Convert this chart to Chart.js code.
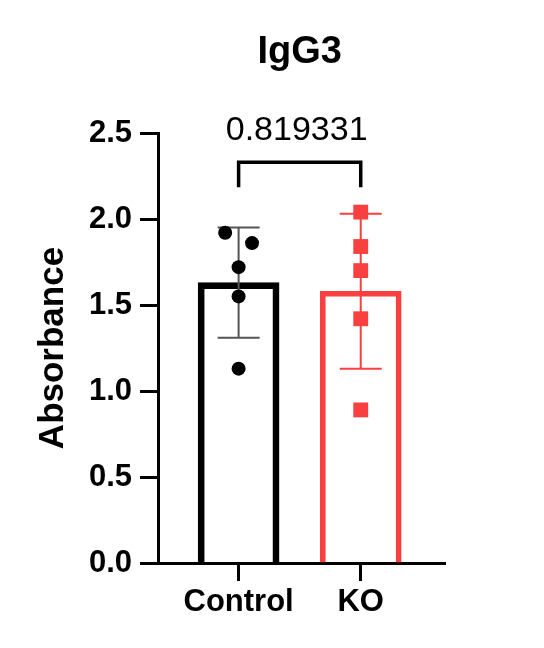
<!DOCTYPE html>
<html><head><meta charset="utf-8">
<script src="https://cdn.jsdelivr.net/npm/chart.js@4.4.0/dist/chart.umd.min.js"></script>
<style>html,body{margin:0;padding:0;background:#fff;}canvas{display:block;}</style>
</head><body>
<canvas id="c" width="544" height="648"></canvas>
<script>
const categories = ['Control', 'KO'];
const barMeans = [1.63, 1.58];
const barSD = [0.32, 0.45];
const controlValues = [1.92, 1.86, 1.72, 1.55, 1.13];
const controlJitter = [-0.11, 0.11, 0, 0, 0];
const koValues = [2.04, 1.84, 1.70, 1.42, 0.89];
const koJitter = [0, 0, 0, 0, 0];
const yTicks = [0, 0.5, 1.0, 1.5, 2.0, 2.5];
const pValueLabel = '0.819331';
const chartTitle = 'IgG3';
const yTitle = 'Absorbance';

const RED = '#f94040';
const FAMILY = '"Liberation Sans", Arial, Helvetica, sans-serif';
Chart.defaults.font.family = FAMILY;
Chart.defaults.color = '#000';

const overlay = {
  id: 'overlay',
  afterDatasetDraw(chart, args) {
    if (args.index !== 0) return;
    const ctx = chart.ctx, x = chart.scales.x, y = chart.scales.y;
    const errColors = ['#555555', RED];
    ctx.save();
    ctx.lineWidth = 2;
    barMeans.forEach((m, i) => {
      const px = x.getPixelForValue(i);
      const top = y.getPixelForValue(m + barSD[i]);
      const bot = y.getPixelForValue(m - barSD[i]);
      ctx.strokeStyle = errColors[i];
      ctx.beginPath();
      ctx.moveTo(px, top); ctx.lineTo(px, bot);
      ctx.moveTo(px - 21, top); ctx.lineTo(px + 21, top);
      ctx.moveTo(px - 21, bot); ctx.lineTo(px + 21, bot);
      ctx.stroke();
    });
    ctx.restore();
  },
  afterDraw(chart) {
    const ctx = chart.ctx, x = chart.scales.x, y = chart.scales.y;
    const mid = x.getPixelForValue(0.5);
    ctx.save();
    ctx.fillStyle = '#000';
    ctx.textAlign = 'center';
    ctx.textBaseline = 'alphabetic';
    ctx.font = 'bold 38px ' + FAMILY;
    ctx.fillText(chartTitle, mid, 63);
    const x0 = x.getPixelForValue(0), x1 = x.getPixelForValue(1);
    const yTop = y.getPixelForValue(2.33), yLeg = y.getPixelForValue(2.185);
    ctx.strokeStyle = '#000';
    ctx.lineWidth = 3.5;
    ctx.lineJoin = 'miter';
    ctx.beginPath();
    ctx.moveTo(x0, yLeg); ctx.lineTo(x0, yTop); ctx.lineTo(x1, yTop); ctx.lineTo(x1, yLeg);
    ctx.stroke();
    ctx.font = '34px ' + FAMILY;
    ctx.fillText(pValueLabel, mid - 3, y.getPixelForValue(2.46));
    ctx.restore();
  }
};

new Chart(document.getElementById('c'), {
  type: 'bar',
  data: {
    datasets: [
      {
        type: 'bar',
        order: 3,
        data: barMeans.map((v, i) => ({x: i, y: v})),
        backgroundColor: 'rgba(255,255,255,0)',
        borderColor: ['#000000', RED],
        borderWidth: [6, 5],
        barThickness: 81
      },
      {
        type: 'scatter',
        order: 1,
        data: controlValues.map((v, i) => ({x: 0 + controlJitter[i], y: v})),
        pointStyle: 'circle',
        pointRadius: 7,
        pointBackgroundColor: '#000',
        pointBorderWidth: 0
      },
      {
        type: 'scatter',
        order: 1,
        data: koValues.map((v, i) => ({x: 1 + koJitter[i], y: v})),
        pointStyle: 'rect',
        pointRadius: 10.5,
        pointBackgroundColor: RED,
        pointBorderWidth: 0
      }
    ]
  },
  options: {
    responsive: false,
    animation: false,
    events: [],
    layout: {padding: {top: 133, right: 99, left: 0, bottom: 0}},
    plugins: {legend: {display: false}, tooltip: {enabled: false}, title: {display: false}},
    scales: {
      x: {
        type: 'linear',
        offset: false,
        min: -0.66,
        max: 1.69,
        afterBuildTicks: (s) => { s.ticks = categories.map((c, i) => ({value: i})); },
        afterFit: (s) => { s.height = 85; },
        ticks: {
          callback: (v) => categories[v],
          font: {size: 31, weight: 'bold'},
          color: '#000',
          padding: 3,
          maxRotation: 0,
          autoSkip: false
        },
        grid: {offset: false, drawOnChartArea: false, drawTicks: true, tickLength: 18, tickWidth: 3, tickColor: '#000'},
        border: {display: true, width: 3, color: '#000'}
      },
      y: {
        type: 'linear',
        min: 0,
        max: 2.5,
        afterBuildTicks: (s) => { s.ticks = yTicks.map(v => ({value: v})); },
        afterFit: (s) => { s.width = 158; },
        ticks: {
          callback: (v) => Number(v).toFixed(1),
          font: {size: 31, weight: 'bold'},
          color: '#000',
          padding: 8
        },
        grid: {drawOnChartArea: false, drawTicks: true, tickLength: 18, tickWidth: 3, tickColor: '#000'},
        border: {display: true, width: 3, color: '#000'},
        title: {
          display: true,
          text: yTitle,
          font: {size: 35, weight: 'bold'},
          color: '#000',
          padding: {top: 32, bottom: 0}
        }
      }
    }
  },
  plugins: [overlay]
});
</script>
</body></html>
